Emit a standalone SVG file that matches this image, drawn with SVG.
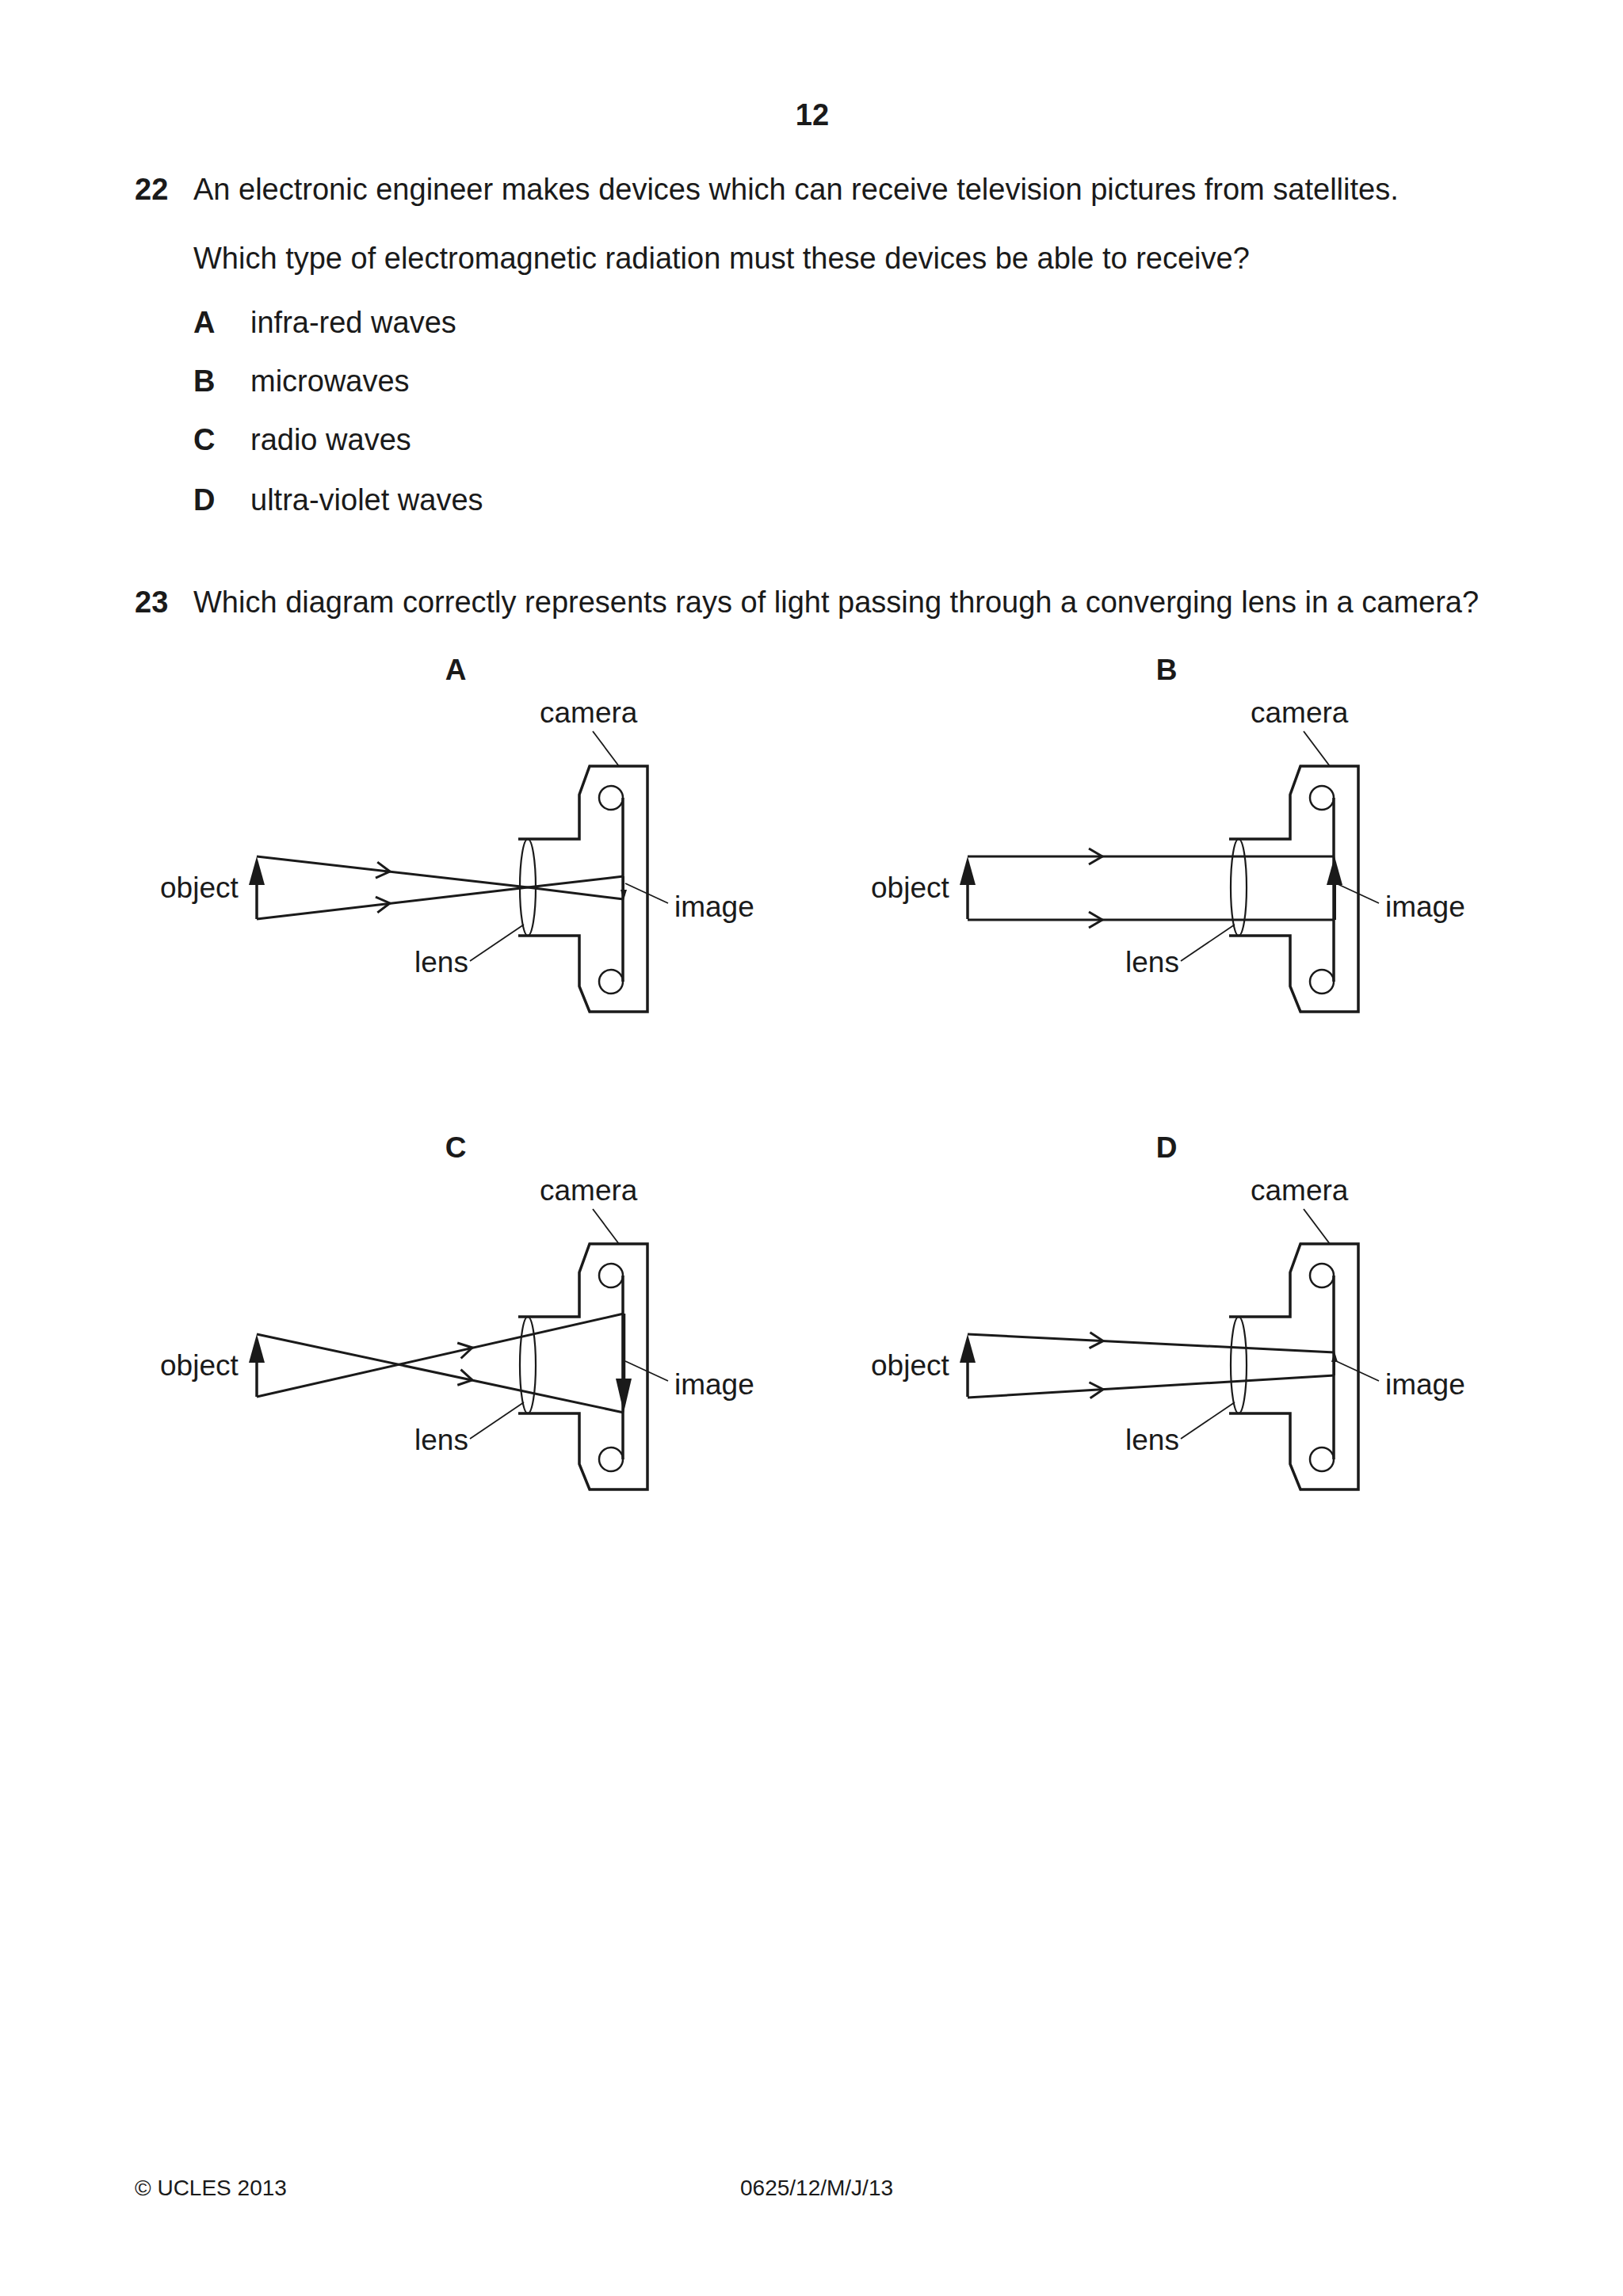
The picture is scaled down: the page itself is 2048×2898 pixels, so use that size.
<svg xmlns="http://www.w3.org/2000/svg" xmlns:xlink="http://www.w3.org/1999/xlink" width="2048" height="2898" viewBox="0 0 2048 2898">
<style>
text{font-family:"Liberation Sans",Arial,sans-serif;font-size:37px;fill:#1a1a1a}
.q{font-size:38px}
.b{font-weight:bold}
.ln{fill:none;stroke:#1a1a1a;stroke-width:3.5;stroke-linejoin:miter}
.th{fill:none;stroke:#1a1a1a;stroke-width:1.8}
.lens{fill:none;stroke:#1a1a1a;stroke-width:2.2}
.hd{fill:#1a1a1a;stroke:none}
</style>
<defs>
<path id="chev" d="M-17,-10 L0,0 L-17,10" fill="none" stroke="#1a1a1a" stroke-width="3"/>
<g id="cam">
<path class="ln" d="M654,1059 L731,1059 L731,1003 L744,967 L817,967 L817,1277 L744,1277 L731,1245 L731,1181 L654,1181"/>
<circle class="ln" cx="771" cy="1007" r="15" style="stroke-width:2.5"/>
<circle class="ln" cx="771" cy="1239" r="15" style="stroke-width:2.5"/>
<line class="ln" x1="786" y1="1007" x2="786" y2="1239"/>
<ellipse class="lens" cx="666" cy="1120" rx="10" ry="61"/>
<line class="th" x1="748" y1="923" x2="781" y2="967"/>
<line class="th" x1="593" y1="1213" x2="661" y2="1167"/>
<line class="th" x1="789" y1="1115" x2="843" y2="1140"/>
<line class="ln" x1="324" y1="1160" x2="324" y2="1105"/>
<polygon class="hd" points="324,1081 314,1117 334,1117"/>
<text x="681" y="912">camera</text>
<text x="202" y="1133">object</text>
<text x="523" y="1227">lens</text>
<text x="851" y="1157">image</text>
</g>
</defs>
<rect width="2048" height="2898" fill="#fff"/>
<g id="header">
<text class="b q" x="1025" y="158" text-anchor="middle">12</text>
<text class="b q" x="170" y="252">22</text>
<text class="q" x="244" y="252">An electronic engineer makes devices which can receive television pictures from satellites.</text>
<text class="q" x="244" y="339">Which type of electromagnetic radiation must these devices be able to receive?</text>
<text class="b q" x="244" y="420">A</text><text class="q" x="316" y="420">infra-red waves</text>
<text class="b q" x="244" y="494">B</text><text class="q" x="316" y="494">microwaves</text>
<text class="b q" x="244" y="568">C</text><text class="q" x="316" y="568">radio waves</text>
<text class="b q" x="244" y="644">D</text><text class="q" x="316" y="644">ultra-violet waves</text>
<text class="b q" x="170" y="773">23</text>
<text class="q" x="244" y="773">Which diagram correctly represents rays of light passing through a converging lens in a camera?</text>
</g>
<g id="diagramA">
<text class="b" x="575" y="858" text-anchor="middle">A</text>
<use xlink:href="#cam"/>
<g id="raysA">
<polyline class="ln" points="324,1081 666,1120 787,1135" style="stroke-width:3"/>
<polyline class="ln" points="324,1160 666,1120 787,1106" style="stroke-width:3"/>
<use xlink:href="#chev" transform="translate(492,1100) rotate(6.5)"/>
<use xlink:href="#chev" transform="translate(492,1140) rotate(-6.7)"/>
<line class="th" x1="787" y1="1106" x2="787" y2="1125"/>
<polygon class="hd" points="787,1136 783,1123 791,1123"/>
</g>
</g>
<g id="diagramB" transform="translate(897,0)">
<text class="b" x="575" y="858" text-anchor="middle">B</text>
<use xlink:href="#cam"/>
<g id="raysB">
<line class="ln" x1="324" y1="1081" x2="787" y2="1081" style="stroke-width:3"/>
<line class="ln" x1="324" y1="1161" x2="787" y2="1161" style="stroke-width:3"/>
<use xlink:href="#chev" transform="translate(494,1081)"/>
<use xlink:href="#chev" transform="translate(494,1161)"/>
<line class="ln" x1="787" y1="1161" x2="787" y2="1110" style="stroke-width:4"/>
<polygon class="hd" points="787,1081 777,1117 797,1117"/>
</g>
</g>
<g id="diagramC" transform="translate(0,603)">
<text class="b" x="575" y="858" text-anchor="middle">C</text>
<use xlink:href="#cam"/>
<g id="raysC">
<line class="ln" x1="324" y1="1081" x2="787" y2="1180" style="stroke-width:3"/>
<line class="ln" x1="324" y1="1160" x2="787" y2="1055" style="stroke-width:3"/>
<use xlink:href="#chev" transform="translate(596,1139) rotate(12.1)"/>
<use xlink:href="#chev" transform="translate(596,1098) rotate(-12.8)"/>
<line class="ln" x1="787" y1="1055" x2="787" y2="1150" style="stroke-width:4.5"/>
<polygon class="hd" points="787,1180 777,1137 797,1137"/>
</g>
</g>
<g id="diagramD" transform="translate(897,603)">
<text class="b" x="575" y="858" text-anchor="middle">D</text>
<use xlink:href="#cam"/>
<g id="raysD">
<line class="ln" x1="324" y1="1081" x2="787" y2="1104" style="stroke-width:3"/>
<line class="ln" x1="324" y1="1161" x2="787" y2="1133" style="stroke-width:3"/>
<use xlink:href="#chev" transform="translate(495,1089.5) rotate(2.8)"/>
<use xlink:href="#chev" transform="translate(495,1150.7) rotate(-3.5)"/>
<line class="th" x1="787" y1="1133" x2="787" y2="1115"/>
<polygon class="hd" points="787,1103 783,1116 791,1116"/>
</g>
</g>
<g id="footer">
<text x="170" y="2771" style="font-size:28px">© UCLES 2013</text>
<text x="934" y="2771" style="font-size:28px">0625/12/M/J/13</text>
</g>
</svg>
